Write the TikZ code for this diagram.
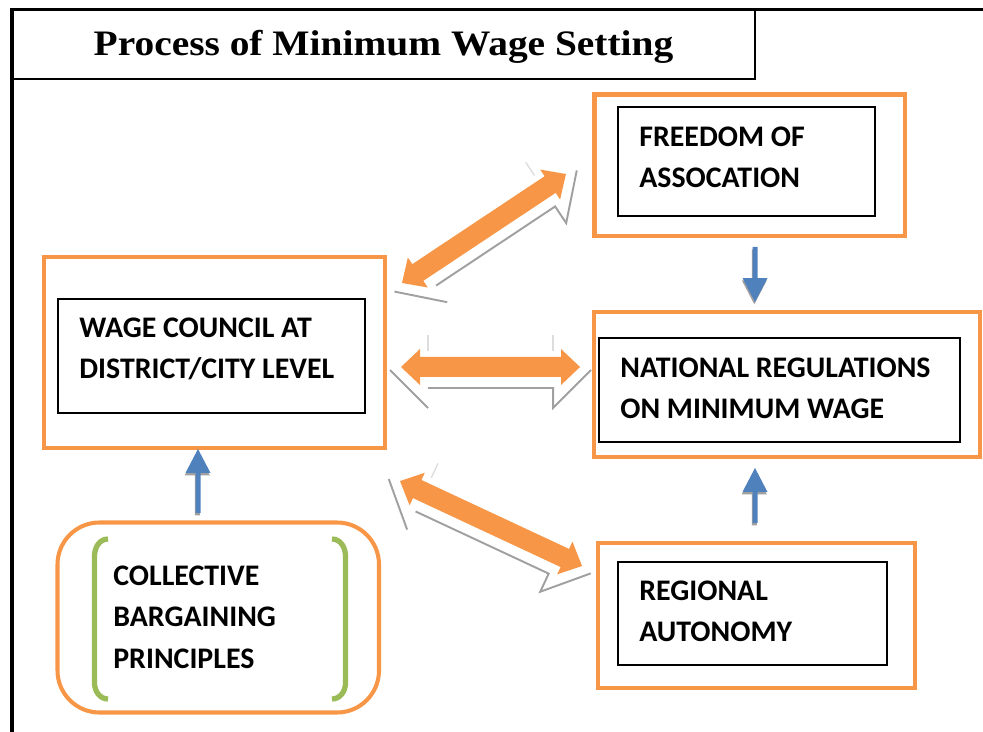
\documentclass[tikz,border=0pt]{standalone}
\usepackage{fontspec}
\setmainfont{Liberation Serif}
\setsansfont{Carlito}
\newfontfamily\titlefont[FakeStretch=1.1]{Liberation Serif}
\usetikzlibrary{calc}

\definecolor{boxorange}{HTML}{F79646}
\definecolor{bracketgreen}{HTML}{9BBB59}
\definecolor{arrowblue}{HTML}{4F81BD}
\definecolor{shadowgray}{HTML}{A0A0A0}
\definecolor{stubgray}{HTML}{DDDDDD}

\newcommand\unitpx{0.02cm}

\tikzset{
  outerbox/.style={draw=boxorange, line width=2.5pt, inner sep=0pt},
  innerbox/.style={draw=black, line width=0.8pt, inner sep=0pt},
  boxtext/.style={anchor=west, align=left, inner sep=0pt,
    font=\sffamily\bfseries\fontsize{17}{23.5}\selectfont},
  bracket/.style={draw=bracketgreen, line width=3pt},
}

% length (in px) and angle between two named points
\newcommand\arrowdir[2]{%
  \pgfpointdiff{\pgfpointanchor{#1}{center}}{\pgfpointanchor{#2}{center}}%
  \pgfgetlastxy{\adx}{\ady}%
  \pgfmathsetmacro\aang{atan2(\ady,\adx)}%
  \pgfmathsetmacro\alen{veclen(\adx,\ady)/0.569055}}

% fat orange double arrow with its grey shadow, #3 = where the faint stubs go
\newcommand\dblarrow[3]{%
  \arrowdir{#1}{#2}%
  \begin{scope}[shift={(#1)}, rotate=\aang]
    \draw[shadowgray, line width=1.1pt] (-11,3) -- (27,41) (27,21) -- (\alen-27,21)
      -- (\alen-27,41) -- (\alen+11,3);
    \foreach \s in {#3}
      \draw[stubgray, line width=0.8pt] (\s,-32) -- (\s,-16);
    \fill[boxorange] (0,0) -- (19,-18) -- (19,-10) -- (\alen-19,-10) -- (\alen-19,-18)
      -- (\alen,0) -- (\alen-19,18) -- (\alen-19,10) -- (19,10) -- (19,18) -- cycle;
  \end{scope}}

% thin blue arrow
\newcommand\bluearrow[2]{%
  \arrowdir{#1}{#2}%
  \begin{scope}[shift={(#1)}, shift={(-0.7,2.3)}, rotate=\aang]
    \fill[shadowgray] (0,-2.5) -- (\alen-24,-2.5) -- (\alen-24,-12.5) -- (\alen,0)
      -- (\alen-24,12.5) -- (\alen-24,2.5) -- (0,2.5) -- cycle;
  \end{scope}
  \begin{scope}[shift={(#1)}, rotate=\aang]
    \fill[arrowblue] (0,-2.5) -- (\alen-24,-2.5) -- (\alen-24,-12.5) -- (\alen,0)
      -- (\alen-24,12.5) -- (\alen-24,2.5) -- (0,2.5) -- cycle;
  \end{scope}}

\begin{document}
\begin{tikzpicture}[x=0.02cm, y=-0.02cm]
\useasboundingbox (0,0) rectangle (983,732);

% frame and title
\draw[line width=2.2pt] (11.7,732) -- (11.7,9.5) -- (983,9.5);
\node[draw, line width=0.9pt, inner sep=0pt, minimum width=743*\unitpx, minimum height=70*\unitpx,
  text height=13.5pt, text depth=0pt, font=\titlefont\bfseries\fontsize{20.4}{24}\selectfont]
  (title) at (383.5,44) {Process of Minimum Wage Setting};

% boxes
\node[outerbox, minimum width=310.5*\unitpx, minimum height=141.5*\unitpx] (freedom) at (749.75,165.25) {};
\node[innerbox, minimum width=257*\unitpx, minimum height=109*\unitpx] (freedomin) at (746.5,161.5) {};
\node[boxtext] (freedomtxt) at (639,157.5) {FREEDOM OF\\ASSOCATION};

\node[outerbox, minimum width=341*\unitpx, minimum height=191*\unitpx] (wage) at (214.5,352.5) {};
\node[innerbox, minimum width=307*\unitpx, minimum height=114*\unitpx] (wagein) at (211.5,356) {};
\node[boxtext] (wagetxt) at (79,349) {WAGE COUNCIL AT\\DISTRICT/CITY LEVEL};

\node[outerbox, minimum width=386*\unitpx, minimum height=145*\unitpx] (national) at (787,384.5) {};
\node[innerbox, minimum width=361*\unitpx, minimum height=104*\unitpx] (nationalin) at (779.5,390) {};
\node[boxtext] (nationaltxt) at (620,388.5) {NATIONAL REGULATIONS\\ON MINIMUM WAGE};

\node[outerbox, minimum width=317*\unitpx, minimum height=145*\unitpx] (regional) at (756.5,615.5) {};
\node[innerbox, minimum width=269*\unitpx, minimum height=103*\unitpx] (regionalin) at (752.5,613.5) {};
\node[boxtext] (regionaltxt) at (639,611.5) {REGIONAL\\AUTONOMY};

\node[outerbox, line width=2.3pt, rounded corners=42*\unitpx, minimum width=321.5*\unitpx,
  minimum height=190*\unitpx] (collective) at (218.25,617.5) {};
\draw[bracket] (108,539) to[out=180,in=90] (94.5,556) -- (94.5,683) to[out=-90,in=180] (108,699);
\draw[bracket] (332,539) to[out=0,in=90] (345.5,556) -- (345.5,683) to[out=-90,in=0] (332,699);
\node[boxtext] (collectivetxt) at (113,617.3) {COLLECTIVE\\BARGAINING\\PRINCIPLES};

% arrow ends
\coordinate (wf-a) at (402,283);
\coordinate (wf-b) at (566,174);
\coordinate (wn-a) at (401,367);
\coordinate (wn-b) at (580,367);
\coordinate (wr-a) at (400,481);
\coordinate (wr-b) at (582,566);
\coordinate (fn-a) at (755,247);
\coordinate (fn-b) at (755,302);
\coordinate (rn-a) at (755,523);
\coordinate (rn-b) at (755,468);
\coordinate (cw-a) at (198,513);
\coordinate (cw-b) at (198,449);

\dblarrow{wf-a}{wf-b}{\alen-27}
\dblarrow{wn-a}{wn-b}{27,\alen-27}
\dblarrow{wr-a}{wr-b}{27}
\bluearrow{fn-a}{fn-b}
\bluearrow{rn-a}{rn-b}
\bluearrow{cw-a}{cw-b}
\end{tikzpicture}
\end{document}
